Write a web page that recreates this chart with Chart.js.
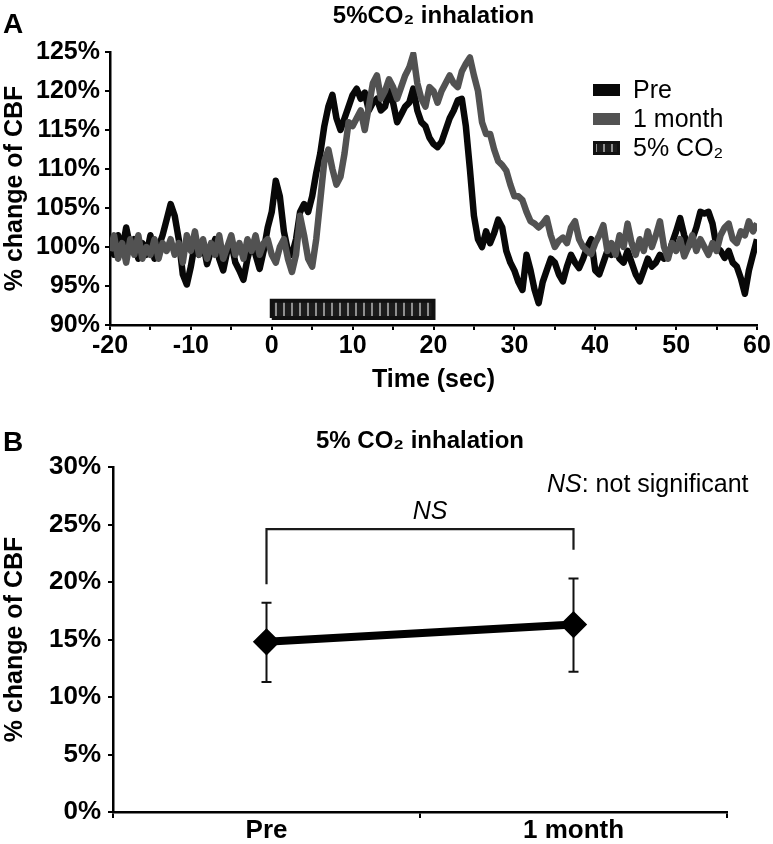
<!DOCTYPE html>
<html><head><meta charset="utf-8">
<script src="https://cdn.jsdelivr.net/npm/chart.js@4.4.1/dist/chart.umd.min.js"></script>
<style>
html,body{margin:0;padding:0;background:#fff;}
#wrap{position:relative;width:773px;height:844px;overflow:hidden;}
#cA{position:absolute;left:0;top:0;}
#cB{position:absolute;left:0;top:395px;}
</style></head><body>
<div id="wrap">
<canvas id="cA" width="773" height="395"></canvas>
<canvas id="cB" width="773" height="449"></canvas>
</div>
<script>
// ---------- Panel A data ----------
const timeSec = Array.from({length: 161}, (_, i) => -20 + i * 0.5); // sample clock, 0.5 s
const preCBF = [
  101, 99, 101.5, 99.5, 102.5, 100, 101, 98.5, 100.5, 99,
  101.5, 98.5, 100, 101.5, 103.5, 105.5, 104, 101, 96.5, 95.2,
  97.5, 100.5, 99, 100.5, 97.8, 99.5, 101, 98.5, 97, 99.5,
  100.5, 98, 97, 95.8, 98.5, 100.5, 99, 97.2, 99.5, 102.5,
  104.5, 108.5, 106.5, 102, 99.5, 99, 101, 104.5, 105.5, 104.5,
  106.5, 109.5, 112, 115.5, 118, 119.5, 116.5, 115, 116.5, 118,
  119.5, 120.3, 119, 119.8, 117.5, 118.5, 119, 117.5, 118, 120,
  118.5, 116, 117, 118, 118.5, 120.3, 117.5, 116, 115.5, 114,
  113.2, 112.8, 113.5, 115, 116.5, 117.5, 118.8, 119, 115.5, 110,
  104, 101, 100, 102, 100.5, 101.8, 103.5, 102.5, 99.5, 98,
  97, 95.5, 94.5, 99, 97, 94.5, 92.8, 95.5, 97, 98.5,
  98, 96.5, 95.6, 97.5, 99, 98, 97.3, 98.5, 100, 101,
  97, 96.5, 98, 99.5, 99, 100, 98.5, 98, 99.5, 98,
  96.5, 95.6, 97, 98.5, 97.5, 98, 99, 98.5, 98.8, 100.5,
  102, 103.7, 101.5, 100, 101, 102.5, 104.5, 104.3, 104.5, 103,
  100, 99.5, 98.6, 99.5, 98, 97.5, 96, 94, 97, 99,
  101
];
const monthCBF = [
  99.5, 101.5, 98.5, 100.5, 98, 101, 99, 101.5, 98.5, 100,
  99, 101, 98.5, 100.5, 99.5, 101, 99, 100.5, 98, 101.5,
  99.5, 102, 99, 101, 98.5, 100.5, 99, 101.5, 98.5, 100,
  101.5, 99, 100.5, 98.5, 101, 99.5, 101.5, 99, 100.5, 101,
  99, 98, 100, 101, 98.5, 96.8, 99, 104, 101.5, 98.5,
  97.5, 101, 106, 111, 112.5, 110, 108, 109, 112, 116,
  115.5, 116.5, 117.5, 115, 118, 121, 122, 119, 120, 121.5,
  120.5, 119, 120.5, 122, 123, 124.7, 121, 119, 118, 120.5,
  120, 118.5, 120, 121, 122, 121, 120.5, 122.5, 123.5, 124.3,
  122, 120, 116, 114.5, 114.5, 112.5, 111, 110.5, 109.8, 108,
  106.5, 106.5, 106, 104.5, 103.3, 103, 102.5, 103, 103.7, 101.5,
  100, 100.8, 101.2, 100.5, 102.5, 103.3, 101, 100, 99.5, 99.1,
  100.5, 101.5, 102.8, 99.5, 100.5, 99, 101.5, 100, 103, 100.5,
  99, 101, 99.5, 102, 100, 101.5, 103.3, 100, 98.5, 100.5,
  99.5, 101, 98.8, 100, 101.5, 99.5, 101, 100, 99, 100.5,
  99.5, 101.5, 102.5, 103, 101, 100.5, 102, 101.5, 103.3, 102,
  103
];
const co2Window = [0, 20];        // seconds
const co2Band = [90.9, 93.1];     // bar extent on the % axis
const seriesNamesA = ['Pre', '1 month', '5% CO\u2082'];

// ---------- Panel B data ----------
const groups = ['Pre', '1 month'];
const meanChange = [14.8, 16.3];
const errLow = [11.3, 12.2];
const errHigh = [18.2, 20.3];
const bracketX = ['Pre', 'Pre', '1 month', '1 month'];
const bracketY = [19.8, 24.6, 24.6, 22.8];

// ---------- styling ----------
const FONT = '"Liberation Sans", Arial, Helvetica, sans-serif';
Chart.defaults.font.family = FONT;
Chart.defaults.color = '#000';
const BLACK = '#080808', GRAY = '#525252';

function stripePattern() {
  const c = document.createElement('canvas'); c.width = 8; c.height = 8;
  const g = c.getContext('2d');
  g.fillStyle = '#1c1c1c'; g.fillRect(0, 0, 8, 8);
  g.fillStyle = '#8f8f8f'; g.fillRect(3, 0, 2, 8);
  return g.createPattern(c, 'repeat');
}
const pat = stripePattern();

const panelA = {
  id: 'panelA',
  afterDraw(chart) {
    const ctx = chart.ctx;
    ctx.save();
    ctx.fillStyle = '#000';
    ctx.font = 'bold 28px ' + FONT;
    ctx.textBaseline = 'middle'; ctx.textAlign = 'left';
    ctx.fillText('A', 3, 25);
    // legend
    const rows = [90, 119, 148];
    ctx.font = '25px ' + FONT;
    seriesNamesA.forEach((name, i) => {
      const y = rows[i];
      if (i < 2) {
        ctx.fillStyle = i === 0 ? BLACK : GRAY;
        ctx.fillRect(593, y - 6, 27, 12);
      } else {
        ctx.fillStyle = pat;
        ctx.fillRect(593, y - 7, 27, 14);
        ctx.strokeStyle = '#111'; ctx.lineWidth = 3;
        ctx.strokeRect(594.5, y - 5.5, 24, 11);
      }
      ctx.fillStyle = '#000';
      ctx.fillText(name, 633, y + 1);
    });
    ctx.restore();
  }
};

const barRect = [
  {x: co2Window[0], y: co2Band[0]}, {x: co2Window[0], y: co2Band[1]},
  {x: co2Window[1], y: co2Band[1]}, {x: co2Window[1], y: co2Band[0]},
  {x: co2Window[0], y: co2Band[0]}
];

new Chart(document.getElementById('cA'), {
  type: 'line',
  data: {
    datasets: [
      {label: seriesNamesA[1], data: timeSec.map((t, i) => ({x: t, y: monthCBF[i]})),
       borderColor: GRAY, borderWidth: 6.5, borderJoinStyle: 'round', pointRadius: 0, tension: 0, fill: false, order: 1},
      {label: seriesNamesA[0], data: timeSec.map((t, i) => ({x: t, y: preCBF[i]})),
       borderColor: BLACK, borderWidth: 6.5, borderJoinStyle: 'round', pointRadius: 0, tension: 0, fill: false, order: 2},
      {label: seriesNamesA[2], data: barRect, borderColor: '#111', borderWidth: 4,
       backgroundColor: pat, fill: 'shape', pointRadius: 0, tension: 0, order: 3}
    ]
  },
  options: {
    responsive: false, animation: false, events: [],
    layout: {padding: {left: 0, right: 16, top: 0, bottom: 0}},
    plugins: {
      legend: {display: false}, tooltip: {enabled: false},
      title: {display: true, fullSize: false, text: '5%CO\u2082 inhalation', color: '#000',
              font: {size: 24, weight: 'bold'}, padding: {top: 2, bottom: 21.2}}
    },
    scales: {
      x: {type: 'linear', min: -20, max: 60,
          border: {display: true, color: '#000', width: 2.5},
          grid: {drawOnChartArea: false, drawTicks: true, tickLength: 5, color: '#000', lineWidth: 2},
          ticks: {stepSize: 5, autoSkip: false, maxRotation: 0, padding: 1, color: '#000',
                  font: {size: 25, weight: 'bold'}, callback: v => (v % 10 === 0 ? v : '')},
          title: {display: true, text: 'Time (sec)', color: '#000', font: {size: 25, weight: 'bold'}, padding: {top: 0, bottom: 0}},
          afterFit: s => { s.height = 70; }
      },
      y: {min: 90, max: 125,
          border: {display: true, color: '#000', width: 2.5},
          grid: {drawOnChartArea: false, drawTicks: true, tickLength: 5, color: '#000', lineWidth: 2},
          ticks: {stepSize: 5, padding: 5, color: '#000', font: {size: 25, weight: 'bold'}, callback: v => v + '%'},
          title: {display: true, text: '% change of CBF', color: '#000', font: {size: 25, weight: 'bold'}, padding: {top: 0, bottom: 0}},
          afterFit: s => { s.width = 110; }
      }
    }
  },
  plugins: [panelA]
});

// ---------- Panel B ----------
const panelB = {
  id: 'panelB',
  beforeDatasetsDraw(chart) {
    const ctx = chart.ctx, xs = chart.scales.x, ys = chart.scales.y;
    ctx.save();
    ctx.strokeStyle = '#111'; ctx.lineWidth = 2;
    groups.forEach((g, i) => {
      const x = xs.getPixelForValue(i);
      const y1 = ys.getPixelForValue(errLow[i]), y2 = ys.getPixelForValue(errHigh[i]);
      ctx.beginPath();
      ctx.moveTo(x, y1); ctx.lineTo(x, y2);
      ctx.moveTo(x - 5, y1); ctx.lineTo(x + 5, y1);
      ctx.moveTo(x - 5, y2); ctx.lineTo(x + 5, y2);
      ctx.stroke();
    });
    ctx.restore();
  },
  afterDraw(chart) {
    const ctx = chart.ctx;
    ctx.save();
    ctx.fillStyle = '#000';
    ctx.textBaseline = 'middle'; ctx.textAlign = 'left';
    ctx.font = 'bold 28px ' + FONT;
    ctx.fillText('B', 3, 48);
    ctx.font = 'italic 25px ' + FONT;
    ctx.textAlign = 'center';
    ctx.fillText('NS', 430, 117);
    ctx.textAlign = 'left';
    ctx.fillText('NS', 547, 90);
    const w = ctx.measureText('NS').width;
    ctx.font = '25px ' + FONT;
    ctx.fillText(': not significant', 547 + w, 90);
    ctx.restore();
  }
};

new Chart(document.getElementById('cB'), {
  type: 'line',
  data: {
    labels: groups,
    datasets: [
      {label: 'mean', data: meanChange, borderColor: '#000', borderWidth: 8,
       pointStyle: 'rectRot', pointRadius: 8, pointBackgroundColor: '#000', pointBorderColor: '#000',
       tension: 0, fill: false, order: 1},
      {label: 'bracket', data: bracketX.map((x, i) => ({x: x, y: bracketY[i]})),
       borderColor: '#1a1a1a', borderWidth: 2.2, pointRadius: 0, tension: 0, fill: false, order: 2}
    ]
  },
  options: {
    responsive: false, animation: false, events: [],
    layout: {padding: {left: 0, right: 46, top: 0, bottom: 0}},
    plugins: {
      legend: {display: false}, tooltip: {enabled: false},
      title: {display: true, fullSize: false, text: '5% CO\u2082 inhalation', color: '#000',
              font: {size: 24, weight: 'bold'}, padding: {top: 32, bottom: 11.2}}
    },
    scales: {
      x: {type: 'category', offset: true,
          border: {display: true, color: '#000', width: 2.5},
          grid: {offset: true, drawOnChartArea: false, drawTicks: true, tickLength: 6, color: '#000', lineWidth: 2},
          ticks: {padding: 0, color: '#000', font: {size: 26, weight: 'bold', lineHeight: 1}},
          afterFit: s => { s.height = 32; }
      },
      y: {min: 0, max: 30,
          border: {display: true, color: '#000', width: 2.5},
          grid: {drawOnChartArea: false, drawTicks: true, tickLength: 5, color: '#000', lineWidth: 2},
          ticks: {stepSize: 5, padding: 7, color: '#000', font: {size: 26, weight: 'bold'}, callback: v => v + '%'},
          title: {display: true, text: '% change of CBF', color: '#000', font: {size: 25, weight: 'bold'}, padding: {top: 0, bottom: 0}},
          afterFit: s => { s.width = 113; }
      }
    }
  },
  plugins: [panelB]
});
</script>
</body></html>
